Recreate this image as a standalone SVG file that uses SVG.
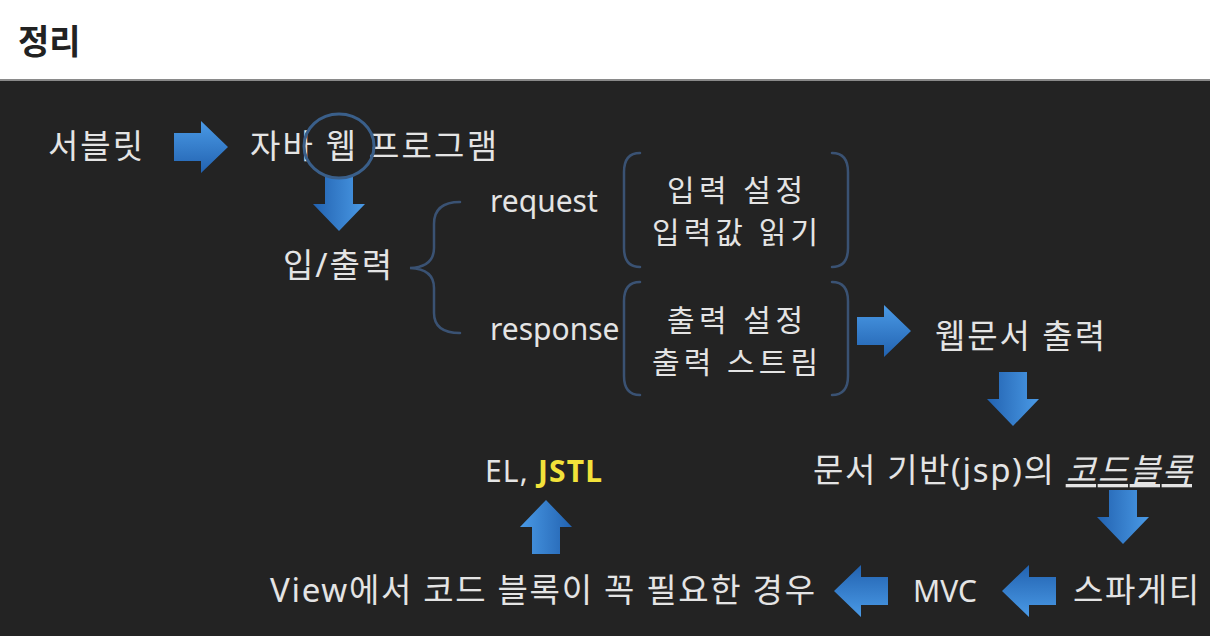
<svg xmlns="http://www.w3.org/2000/svg" xmlns:xlink="http://www.w3.org/1999/xlink" width="1210" height="636" viewBox="0 0 1210 636">
<style>
.t{font-family:"Noto Sans","Noto Sans CJK KR",sans-serif;font-size:33px;fill:#e4e4e4;}
.b{font-family:"Noto Sans","Noto Sans CJK KR",sans-serif;font-size:30px;fill:#e4e4e4;}
.l{font-family:"Noto Sans","Noto Sans CJK KR",sans-serif;font-size:30px;fill:#e4e4e4;}
.br{fill:none;stroke:#3a5273;stroke-width:2.5;stroke-linecap:round;}
</style>
<defs>
<linearGradient id="g" x1="0" y1="0" x2="0" y2="1">
<stop offset="0" stop-color="#4a9ae6"/>
<stop offset="1" stop-color="#2262b0"/>
</linearGradient>
<path id="arr" d="M-27,-14 H0 V-26 L27,0 L0,26 V14 H-27 Z" fill="url(#g)"/>
</defs>
<rect x="0" y="0" width="1210" height="80" fill="#ffffff"/>
<rect x="0" y="79" width="1210" height="2" fill="#8a8a8a"/>
<rect x="0" y="81" width="1210" height="555" fill="#232323"/>
<text x="18" y="54" font-family="'Noto Sans CJK KR',sans-serif" font-size="34" font-weight="bold" fill="#222">정리</text>

<g id="connectors">
<use xlink:href="#arr" transform="translate(201,147)"/>
<use xlink:href="#arr" transform="translate(339,204) rotate(90)"/>
<use xlink:href="#arr" transform="translate(884,331)"/>
<use xlink:href="#arr" transform="translate(1013,399) rotate(90)"/>
<use xlink:href="#arr" transform="translate(1123,517) rotate(90)"/>
<use xlink:href="#arr" transform="translate(1029,591) rotate(180)"/>
<use xlink:href="#arr" transform="translate(861,591) rotate(180)"/>
<use xlink:href="#arr" transform="translate(546,527) rotate(-90)"/>
<path class="br" d="M460,202 Q434,202 434,224 V248 Q434,267 410,268 Q434,269 434,288 V313 Q434,333 460,333"/>
</g>

<g id="servlet"><text class="t" x="48" y="158" textLength="95">서블릿</text></g>
<g id="javaweb">
<text class="t" x="250" y="158" textLength="247">자바 웹 프로그램</text>
<ellipse cx="339" cy="146" rx="35" ry="32" fill="none" stroke="#3a5f8a" stroke-width="3"/>
</g>
<g id="io"><text class="t" x="283" y="277" textLength="109">입/출력</text></g>
<g id="request"><text class="l" x="490" y="212">request</text></g>
<g id="response"><text class="l" x="490" y="340">response</text></g>
<g id="reqbox">
<path class="br" d="M640,153 Q624,153 624,172 V248 Q624,267 640,267"/>
<path class="br" d="M832,153 Q848,153 848,172 V248 Q848,267 832,267"/>
<text class="b" x="667" y="201" textLength="136">입력 설정</text>
<text class="b" x="652" y="243" textLength="166">입력값 읽기</text>
</g>
<g id="resbox">
<path class="br" d="M640,282 Q624,282 624,301 V376 Q624,395 640,395"/>
<path class="br" d="M832,282 Q848,282 848,301 V376 Q848,395 832,395"/>
<text class="b" x="667" y="331" textLength="136">출력 설정</text>
<text class="b" x="652" y="373" textLength="166">출력 스트림</text>
</g>
<g id="webdoc"><text class="t" x="935" y="348" textLength="170">웹문서 출력</text></g>
<g id="codeblock">
<text class="t" x="813" y="482" textLength="379">문서 기반(jsp)의 <tspan font-style="italic" text-decoration="underline">코드블록</tspan></text>
</g>
<g id="spaghetti"><text class="t" x="1073" y="602" textLength="126">스파게티</text></g>
<g id="mvc"><text class="l" x="913" y="602" font-size="31">MVC</text></g>
<g id="view"><text class="t" x="270" y="602" textLength="545">View에서 코드 블록이 꼭 필요한 경우</text></g>
<g id="eljstl"><text class="l" x="485" y="482" font-size="31" textLength="117">EL, <tspan font-weight="bold" fill="#f2e23a">JSTL</tspan></text></g>
</svg>
